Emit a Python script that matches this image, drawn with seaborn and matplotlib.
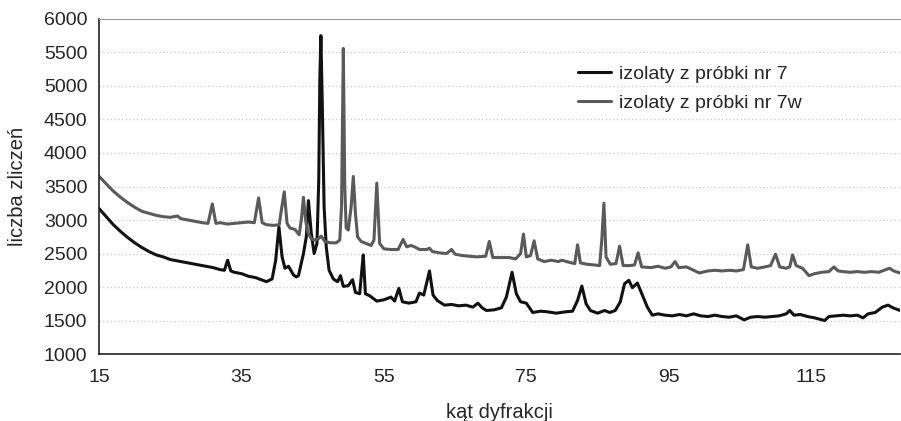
import matplotlib
matplotlib.use("Agg")
import matplotlib.pyplot as plt
import numpy as np
import pandas as pd
import seaborn as sns

# dane: kat dyfrakcji (2theta) i liczba zliczen
kat_7 = [15.0, 16.0, 17.0, 18.0, 19.0, 20.0, 21.0, 22.0, 23.0, 24.0, 25.0, 26.0, 27.0, 28.0, 29.0,
         30.0, 31.0, 32.0, 32.6, 33.05, 33.5, 34.0, 35.0, 36.0, 37.0, 38.0, 38.5, 39.3, 39.8, 40.25,
         40.7, 41.1, 41.6, 42.3, 42.7, 43.0, 43.7, 44.1, 44.4, 44.8, 45.2, 45.6, 45.85, 46.0, 46.15,
         46.35, 46.6, 46.9, 47.3, 47.9, 48.5, 48.9, 49.3, 50.0, 50.6, 51.0, 51.6, 51.85, 52.1, 52.4,
         53.0, 54.0, 55.0, 56.0, 56.5, 57.1, 57.6, 58.5, 59.5, 60.0, 60.6, 61.4, 61.9, 62.5, 63.5,
         64.5, 65.5, 66.5, 67.5, 68.2, 68.8, 69.4, 70.5, 71.5, 72.2, 73.0, 73.6, 74.2, 75.0, 75.9,
         77.0, 78.0, 79.2, 80.5, 81.5, 82.2, 82.8, 83.4, 84.0, 85.0, 86.0, 86.7, 87.5, 88.2, 88.8,
         89.4, 89.9, 90.6, 91.3, 92.0, 92.7, 93.5, 94.5, 95.5, 96.5, 97.5, 98.5, 99.5, 100.5, 101.5,
         102.5, 103.5, 104.5, 105.6, 106.5, 107.5, 108.5, 109.5, 110.5, 111.5, 112.0, 112.6, 113.5,
         114.5, 115.5, 116.9, 117.5, 118.5, 119.5, 120.5, 121.5, 122.3, 123.0, 124.0, 125.0, 125.8,
         126.5, 127.5]
zlicz_7 = [3170, 3050, 2930, 2830, 2740, 2660, 2590, 2530, 2480, 2450, 2410, 2390, 2370, 2350, 2330,
           2310, 2290, 2260, 2250, 2400, 2240, 2220, 2200, 2160, 2140, 2100, 2080, 2120, 2400, 2900,
           2450, 2280, 2310, 2180, 2150, 2170, 2500, 2750, 3290, 2800, 2500, 2650, 3600, 5100, 5750,
           4700, 3200, 2600, 2250, 2120, 2080, 2170, 2010, 2020, 2110, 1920, 1900, 2200, 2480, 1900,
           1870, 1790, 1810, 1850, 1790, 1980, 1780, 1760, 1780, 1910, 1880, 2240, 1880, 1800, 1730,
           1740, 1720, 1730, 1700, 1760, 1690, 1650, 1660, 1690, 1850, 2220, 1900, 1780, 1760, 1620,
           1640, 1630, 1610, 1630, 1640, 1800, 2015, 1750, 1650, 1610, 1650, 1620, 1650, 1780, 2050,
           2100, 1990, 2060, 1880, 1700, 1580, 1600, 1580, 1570, 1590, 1570, 1600, 1570, 1560, 1580,
           1560, 1550, 1570, 1510, 1550, 1560, 1550, 1560, 1570, 1600, 1650, 1580, 1590,
           1560, 1540, 1500, 1560, 1570, 1580, 1570, 1580, 1540, 1600, 1620, 1700, 1730,
           1690, 1650]

kat_7w = [15.0, 16.0, 17.0, 18.0, 19.0, 20.0, 21.0, 22.0, 23.0, 24.0, 25.0, 26.0, 26.5, 27.5, 28.5,
          29.5, 30.3, 30.9, 31.4, 32.0, 33.0, 34.0, 35.0, 36.0, 36.8, 37.4, 37.9, 38.5, 39.5, 40.3,
          40.6, 41.0, 41.4, 41.8, 42.5, 43.1, 43.4, 43.7, 44.0, 44.3, 44.8, 45.3, 45.8, 46.2, 46.7,
          47.5, 48.3, 48.8, 49.05, 49.3, 49.5, 49.7, 50.0, 50.4, 50.7, 51.0, 51.3, 51.8, 52.5, 53.2,
          53.6, 54.0, 54.4, 55.0, 56.0, 57.0, 57.7, 58.2, 58.8, 59.3, 60.0, 61.0, 61.4, 61.8, 62.8,
          63.8, 64.5, 65.0, 66.0, 67.0, 68.0, 69.3, 69.8, 70.3, 71.5, 72.6, 73.5, 74.2, 74.6, 75.0,
          75.6, 76.1, 76.6, 77.5, 78.5, 79.5, 80.0, 81.0, 81.8, 82.2, 82.6, 83.5, 84.5, 85.3, 85.6,
          85.9, 86.2, 86.8, 87.6, 88.1, 88.6, 89.5, 90.2, 90.7, 91.2, 92.5, 93.5, 94.5, 95.3, 95.9,
          96.4, 97.5, 98.5, 99.3, 100.5, 101.5, 102.5, 103.5, 104.5, 105.5, 106.1, 106.6, 107.5, 108.5,
          109.3, 110.0, 110.6, 111.5, 112.0, 112.4, 112.9, 113.8, 114.7, 115.5, 116.5, 117.5, 118.2,
          118.8, 119.5, 120.5, 121.5, 122.5, 123.5, 124.5, 125.5, 126.0, 126.6, 127.5]
zlicz_7w = [3650, 3540, 3430, 3340, 3260, 3190, 3130, 3100, 3070, 3050, 3040, 3060, 3020, 3000, 2980,
            2960, 2950, 3240, 2950, 2960, 2940, 2950, 2960, 2970, 2960, 3330, 2960, 2930, 2920, 2930,
            3150, 3420, 2950, 2880, 2860, 2780, 3000, 3340, 3000, 2820, 2720, 2700, 2720, 2760, 2680,
            2660, 2660, 2700, 3200, 5560, 3500, 2880, 2850, 3200, 3650, 3100, 2750, 2680, 2650, 2620,
            2700, 3550, 2650, 2570, 2560, 2560, 2710, 2600, 2620, 2600, 2560, 2560, 2580, 2530, 2510,
            2500, 2560, 2490, 2470, 2460, 2450, 2460, 2680, 2440, 2440, 2440, 2420, 2500, 2790, 2450,
            2470, 2690, 2420, 2380, 2400, 2380, 2400, 2370, 2350, 2630, 2360, 2340, 2330, 2320, 2700,
            3250, 2450, 2340, 2350, 2610, 2320, 2320, 2330, 2510, 2300, 2290, 2310, 2280, 2300, 2380,
            2290, 2300, 2250, 2210, 2240, 2250, 2240, 2250, 2240, 2260, 2630, 2300, 2280, 2300,
            2320, 2490, 2300, 2280, 2300, 2480, 2320, 2280, 2170, 2200, 2220, 2230, 2300,
            2240, 2230, 2220, 2230, 2220, 2230, 2220, 2260, 2280, 2240, 2210]

etykieta_7 = "izolaty z próbki nr 7"
etykieta_7w = "izolaty z próbki nr 7w"

df = pd.concat([
    pd.DataFrame({"kat": kat_7, "zliczenia": zlicz_7, "seria": etykieta_7}),
    pd.DataFrame({"kat": kat_7w, "zliczenia": zlicz_7w, "seria": etykieta_7w}),
])

sns.set_style("white")
plt.rcParams["font.family"] = ["Liberation Sans", "DejaVu Sans"]

fig = plt.figure(figsize=(9.01, 4.21), dpi=100)
ax = fig.add_axes([0.11, 0.159, 0.889, 0.796])

ax.yaxis.grid(True, linestyle=(0, (1, 2)), color="#c8c8c8", linewidth=0.9)
ax.set_axisbelow(True)

sns.lineplot(data=df, x="kat", y="zliczenia", hue="seria",
             palette={etykieta_7: "#111111", etykieta_7w: "#5a5a5a"},
             hue_order=[etykieta_7, etykieta_7w],
             estimator=None, linewidth=2.2, ax=ax)

ax.set_xlim(15, 127.5)
ax.set_ylim(1000, 6000)
ax.set_xticks(np.arange(15, 126, 20))
ax.set_yticks(np.arange(1000, 6001, 500))
ax.tick_params(axis="both", labelsize=14, direction="out", length=5, width=1, color="#222222")
ax.tick_params(axis="x", pad=6)
ax.set_xlabel("kąt dyfrakcji", fontsize=14.5, labelpad=12)
ax.set_ylabel("liczba zliczeń", fontsize=14.5, labelpad=12)

for s in ["left", "bottom"]:
    ax.spines[s].set_color("#222222")
    ax.spines[s].set_linewidth(1.2)
ax.spines["top"].set_color("#999999")
ax.spines["right"].set_visible(False)

ax.legend(loc="upper left", bbox_to_anchor=(0.576, 0.913), frameon=False, fontsize=14,
          handlelength=1.7, handletextpad=0.4, labelspacing=0.55, title=None)

fig.savefig("out.png", dpi=100)
